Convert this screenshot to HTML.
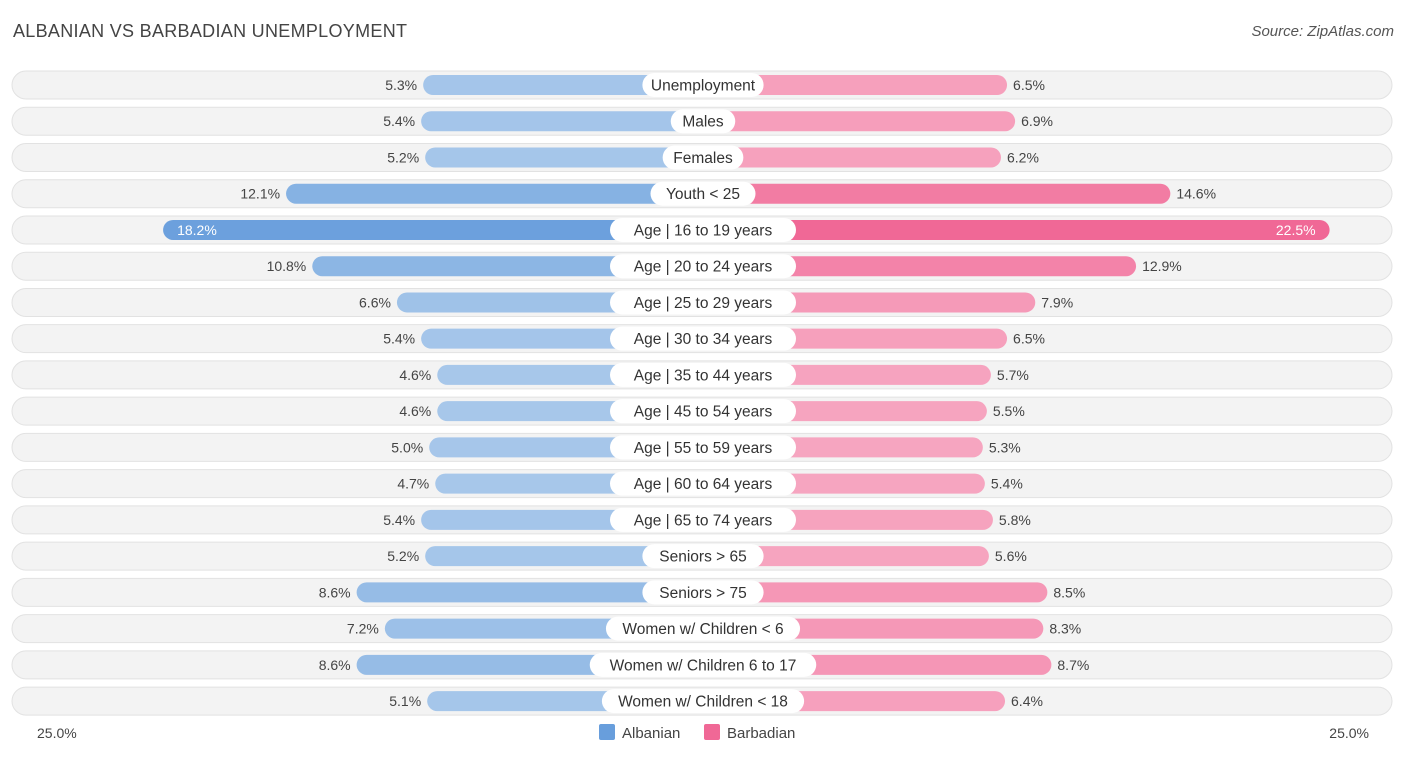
<!DOCTYPE html>
<html><head><meta charset="utf-8"><style>
body{margin:0;width:1406px;height:757px;background:#fff;font-family:"Liberation Sans",sans-serif;overflow:hidden;position:relative}
.t{position:absolute;left:13px;top:21px;font-size:18px;color:#444;letter-spacing:0.3px}
.s{position:absolute;right:12px;top:23px;font-size:15px;color:#555;font-style:italic}
</style></head><body>
<div class="t">ALBANIAN VS BARBADIAN UNEMPLOYMENT</div>
<div class="s">Source: ZipAtlas.com</div>
<svg id="c" width="1406" height="757" style="position:absolute;left:0;top:0"></svg>
<script>
const categories=["Unemployment","Males","Females","Youth < 25","Age | 16 to 19 years","Age | 20 to 24 years","Age | 25 to 29 years","Age | 30 to 34 years","Age | 35 to 44 years","Age | 45 to 54 years","Age | 55 to 59 years","Age | 60 to 64 years","Age | 65 to 74 years","Seniors > 65","Seniors > 75","Women w/ Children < 6","Women w/ Children 6 to 17","Women w/ Children < 18"];
const albanian=[5.3,5.4,5.2,12.1,18.2,10.8,6.6,5.4,4.6,4.6,5.0,4.7,5.4,5.2,8.6,7.2,8.6,5.1];
const barbadian=[6.5,6.9,6.2,14.6,22.5,12.9,7.9,6.5,5.7,5.5,5.3,5.4,5.8,5.6,8.5,8.3,8.7,6.4];
const axisLabels=["25.0%","25.0%"];
const svg=document.getElementById('c');const NS="http://www.w3.org/2000/svg";
const cx=703,off=173,k=20.16,y0=85,dy=36.24;
function x(v){return off+v*k;}
function mk(t,a){const e=document.createElementNS(NS,t);for(const p in a)e.setAttribute(p,a[p]);svg.appendChild(e);return e;}
function lerp(a,b,t){return a.map((v,i)=>Math.round(v+(b[i]-v)*t));}
function col(l,s,v){const t=Math.max(0,Math.min(1,(v-4)/15));const c=lerp(l,s,t);return `rgb(${c[0]},${c[1]},${c[2]})`;}
categories.forEach((c,i)=>{
 const y=y0+i*dy;
 const r=mk('rect',{x:12,y:y-14,width:1380,height:28,rx:14,fill:'#f3f3f3',stroke:'#e2e2e2','stroke-width':1});
 
 const a=albanian[i],b=barbadian[i];
 const la=x(a),lb=x(b);
 const ba=mk('rect',{x:cx-la,y:y-10,width:la,height:20,rx:10,fill:col([170,201,235],[104,158,220],a)});
 
 const bb=mk('rect',{x:cx,y:y-10,width:lb,height:20,rx:10,fill:col([247,171,196],[240,104,150],b)});
 
 const big=i===4;
 const ta=mk('text',{x:big?cx-la+14:cx-la-6,y:y+5,'font-size':14,fill:big?'#fff':'#444','text-anchor':big?'start':'end'});ta.textContent=a.toFixed(1)+'%';
 
 const tb=mk('text',{x:big?cx+lb-14:cx+lb+6,y:y+5,'font-size':14,fill:big?'#fff':'#444','text-anchor':big?'end':'start'});tb.textContent=b.toFixed(1)+'%';
 
 const w=c.length*8.1+24;
 const p=mk('rect',{x:cx-w/2,y:y-12,width:w,height:24,rx:12,fill:'#fff'});
 
 const tl=mk('text',{x:cx,y:y+5.5,'font-size':15.5,fill:'#333','text-anchor':'middle'});tl.textContent=c;
 
});
const l1=mk('text',{x:37,y:738,'font-size':14,fill:'#444'});l1.textContent=axisLabels[0];

const l2=mk('text',{x:1369,y:738,'font-size':14,fill:'#444','text-anchor':'end'});l2.textContent=axisLabels[1];

const s1=mk('rect',{x:599,y:724,width:16,height:16,rx:2,fill:'#689edc'});

const t1=mk('text',{x:622,y:738,'font-size':15,fill:'#444'});t1.textContent='Albanian';

const s2=mk('rect',{x:704,y:724,width:16,height:16,rx:2,fill:'#f06896'});

const t2=mk('text',{x:727,y:738,'font-size':15,fill:'#444'});t2.textContent='Barbadian';

</script>
</body></html>
